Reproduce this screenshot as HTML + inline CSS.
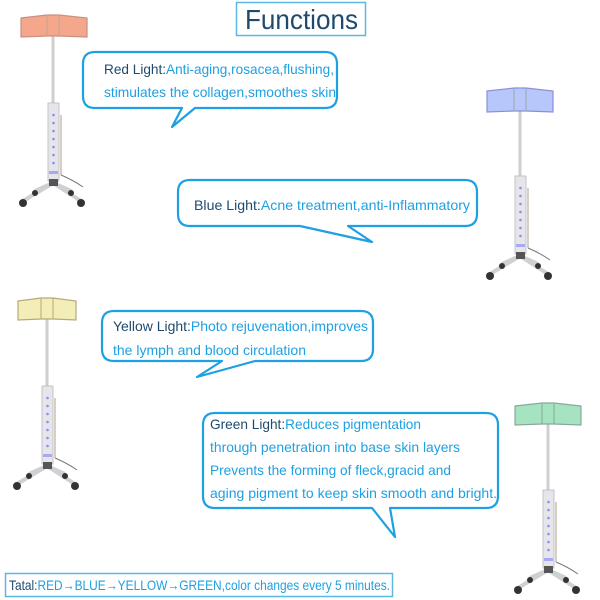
<!DOCTYPE html>
<html><head><meta charset="utf-8"><style>
html,body{margin:0;padding:0;background:#fff;}
svg{display:block}
text{font-family:"Liberation Sans",sans-serif;font-size:14px;}
.d{fill:#1f4a6e}.b{fill:#1ea0e2}
</style></head><body>
<svg width="600" height="600" viewBox="0 0 600 600" xmlns="http://www.w3.org/2000/svg">
<defs>
<g id="stand">
  <line x1="0" y1="20" x2="0" y2="90" stroke="#cfcfcf" stroke-width="3"/>
  <rect x="-5" y="88" width="11" height="78" fill="#e6e6ea" stroke="#b8b8c0" stroke-width="0.8"/>
  <g fill="#8b8df0"><circle cx="0.5" cy="100" r="1.3"/><circle cx="0.5" cy="108" r="1.3"/><circle cx="0.5" cy="116" r="1.3"/><circle cx="0.5" cy="124" r="1.3"/><circle cx="0.5" cy="132" r="1.3"/><circle cx="0.5" cy="140" r="1.3"/><circle cx="0.5" cy="148" r="1.3"/></g>
  <rect x="-4" y="156" width="9" height="3" fill="#a7a9f5"/>
  <line x1="8" y1="100" x2="8" y2="160" stroke="#c8c0b0" stroke-width="1.5"/>
  <path d="M0 168 L-30 186 M0 168 L28 186 M0 168 L-18 176 M0 168 L18 176" stroke="#cfd0d3" stroke-width="4" fill="none"/>
  <rect x="-4" y="164" width="9" height="7" fill="#555"/>
  <circle cx="-30" cy="188" r="4" fill="#333"/><circle cx="28" cy="188" r="4" fill="#333"/>
  <circle cx="-18" cy="178" r="3" fill="#333"/><circle cx="18" cy="178" r="3" fill="#333"/>
  <path d="M8 160 Q20 165 30 172" stroke="#777" stroke-width="1" fill="none"/>
</g>
</defs>

<g transform="translate(53,15)">
  <use href="#stand"/>
  <path d="M-32 3 L-6 0 L6 0 L34 3 L34 22 L6 21 L-6 21 L-32 22 Z" fill="#f5a78c" stroke="#c98f80" stroke-width="1.2"/>
  <line x1="-6" y1="0" x2="-6" y2="21" stroke="#c9a090"/><line x1="6" y1="0" x2="6" y2="21" stroke="#c9a090"/>
</g>
<g transform="translate(520,88)">
  <use href="#stand"/>
  <path d="M-33 3 L-6 0 L6 0 L33 3 L33 24 L6 23 L-6 23 L-33 24 Z" fill="#b7c6fb" stroke="#8c8fd8" stroke-width="1.2"/>
  <line x1="-6" y1="0" x2="-6" y2="23" stroke="#9aa"/><line x1="6" y1="0" x2="6" y2="23" stroke="#9aa"/>
</g>
<g transform="translate(47,298)">
  <use href="#stand"/>
  <path d="M-29 3 L-6 0 L6 0 L29 3 L29 22 L6 21 L-6 21 L-29 22 Z" fill="#f3eeb8" stroke="#b9a878" stroke-width="1.2"/>
  <line x1="-6" y1="0" x2="-6" y2="21" stroke="#b9a878"/><line x1="6" y1="0" x2="6" y2="21" stroke="#b9a878"/>
</g>
<g transform="translate(548,402)">
  <use href="#stand"/>
  <path d="M-33 4 L-6 1 L6 1 L33 4 L33 23 L6 22 L-6 22 L-33 23 Z" fill="#a6e3c0" stroke="#8aa89a" stroke-width="1.2"/>
  <line x1="-6" y1="1" x2="-6" y2="22" stroke="#8a9"/><line x1="6" y1="1" x2="6" y2="22" stroke="#8a9"/>
</g>

<rect x="236.5" y="2.5" width="129" height="33" fill="#fff" stroke="#5bb8e0" stroke-width="1.5"/>
<text x="245" y="29" textLength="113" lengthAdjust="spacingAndGlyphs" style="font-size:28px;fill:#1f4a6e">Functions</text>

<g fill="#fff" stroke="#1ea0e2" stroke-width="2.2" stroke-linejoin="round">
<path d="M95 52 H325 Q337 52 337 64 V96 Q337 108 325 108 H195 L172 127 L182 108 H95 Q83 108 83 96 V64 Q83 52 95 52 Z"/>
<path d="M190 180 H465 Q477 180 477 192 V214 Q477 226 465 226 H348 L372 242 L300 226 H190 Q178 226 178 214 V192 Q178 180 190 180 Z"/>
<path d="M114 311 H361 Q373 311 373 323 V349 Q373 361 361 361 H255 L197 377 L222 361 H114 Q102 361 102 349 V323 Q102 311 114 311 Z"/>
<path d="M215 413 H486 Q498 413 498 425 V496 Q498 508 486 508 H390 L395 537 L372 508 H215 Q203 508 203 496 V425 Q203 413 215 413 Z"/>
</g>

<text x="104" y="74" textLength="230" lengthAdjust="spacingAndGlyphs"><tspan class="d">Red Light:</tspan><tspan class="b">Anti-aging,rosacea,flushing,</tspan></text>
<text x="104" y="97" class="b" textLength="232" lengthAdjust="spacingAndGlyphs">stimulates the collagen,smoothes skin</text>

<text x="194" y="210" textLength="276" lengthAdjust="spacingAndGlyphs"><tspan class="d">Blue Light:</tspan><tspan class="b">Acne treatment,anti-Inflammatory</tspan></text>

<text x="113" y="331" textLength="255" lengthAdjust="spacingAndGlyphs"><tspan class="d">Yellow Light:</tspan><tspan class="b">Photo rejuvenation,improves</tspan></text>
<text x="113" y="355" class="b" textLength="193" lengthAdjust="spacingAndGlyphs">the lymph and blood circulation</text>

<text x="210" y="429" textLength="211" lengthAdjust="spacingAndGlyphs"><tspan class="d">Green Light:</tspan><tspan class="b">Reduces pigmentation</tspan></text>
<text x="210" y="452" class="b" textLength="250" lengthAdjust="spacingAndGlyphs">through penetration into base skin layers</text>
<text x="210" y="475" class="b" textLength="241" lengthAdjust="spacingAndGlyphs">Prevents the forming of fleck,gracid and</text>
<text x="210" y="498" class="b" textLength="287" lengthAdjust="spacingAndGlyphs">aging pigment to keep skin smooth and bright.</text>

<rect x="5.5" y="573.5" width="387" height="23" fill="#fff" stroke="#5bb8e0" stroke-width="1.5"/>
<text x="9" y="590" textLength="381" lengthAdjust="spacingAndGlyphs"><tspan class="d">Tatal:</tspan><tspan class="b">RED→BLUE→YELLOW→GREEN,color changes every 5 minutes.</tspan></text>
</svg>
</body></html>
